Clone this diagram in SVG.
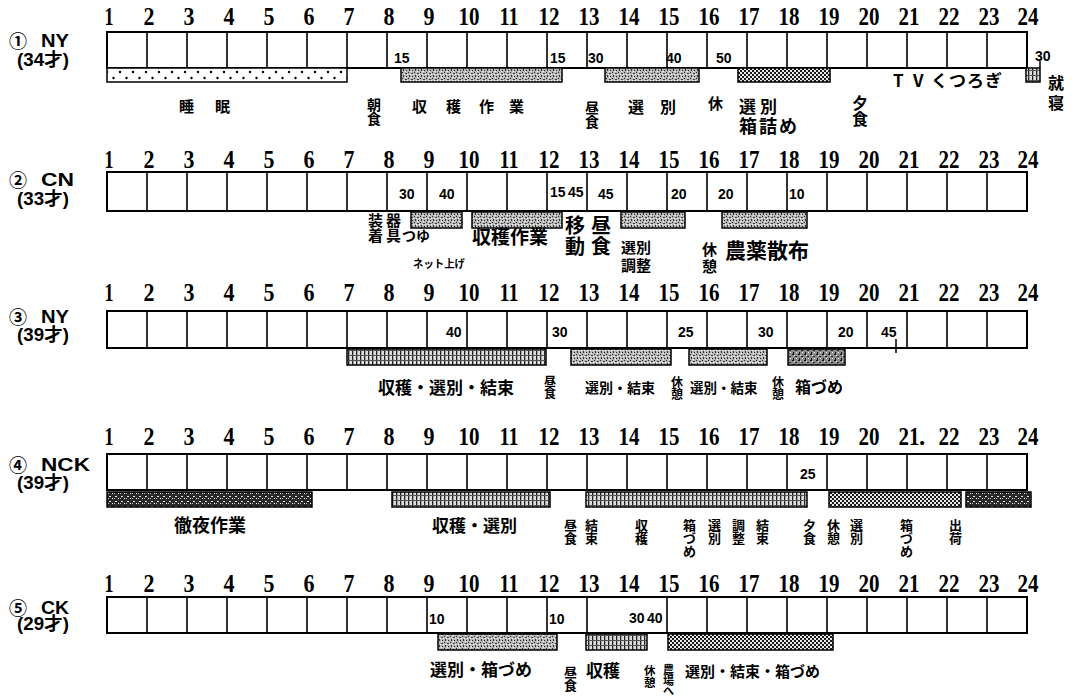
<svg xmlns="http://www.w3.org/2000/svg" xmlns:xlink="http://www.w3.org/1999/xlink" width="1076" height="696" viewBox="0 0 1076 696">
<style>
.h{font-family:"Liberation Serif",serif;font-weight:700;font-size:25px;text-anchor:middle;fill:#000}
.n{font-family:"Liberation Sans",sans-serif;font-weight:700;font-size:14px;fill:#000}
.j{font-family:"Noto Sans CJK JP",sans-serif;font-weight:700;fill:#000}
.r{font-family:"Liberation Sans","Noto Sans CJK JP",sans-serif;font-weight:700;font-size:18px;fill:#000}
.box{fill:#fff;stroke:#000;stroke-width:2}
.div{fill:none;stroke:#000;stroke-width:1.6}
.bar{stroke:#000;stroke-width:1.5}
</style>
<defs>
<pattern id="pDots" width="13" height="12" patternUnits="userSpaceOnUse" patternTransform="translate(0,68)"><rect width="13" height="12" fill="#fff"/><circle cx="3" cy="4" r="1.2" fill="#000"/><circle cx="9.5" cy="10" r="1.2" fill="#000"/></pattern>
<pattern id="pGrey" width="6" height="6" patternUnits="userSpaceOnUse"><rect width="6" height="6" fill="#b8b8b8"/><rect x="0" y="0" width="1" height="1" fill="#222"/><rect x="3" y="1" width="2" height="1" fill="#444"/><rect x="1" y="3" width="1" height="2" fill="#333"/><rect x="4" y="4" width="1" height="1" fill="#222"/><rect x="2" y="2" width="1" height="1" fill="#fff"/><rect x="5" y="2" width="1" height="1" fill="#fff"/><rect x="3" y="5" width="1" height="1" fill="#fff"/></pattern>
<pattern id="pGreyD" width="6" height="6" patternUnits="userSpaceOnUse"><rect width="6" height="6" fill="#8a8a8a"/><rect x="0" y="0" width="2" height="1" fill="#111"/><rect x="3" y="2" width="2" height="1" fill="#222"/><rect x="1" y="4" width="1" height="2" fill="#111"/><rect x="4" y="4" width="1" height="1" fill="#fff"/><rect x="2" y="1" width="1" height="1" fill="#eee"/></pattern>
<pattern id="pCheck" width="4" height="4" patternUnits="userSpaceOnUse"><rect width="4" height="4" fill="#1a1a1a"/><rect x="0" y="0" width="2" height="2" fill="#e8e8e8"/><rect x="2" y="2" width="2" height="2" fill="#e8e8e8"/></pattern>
<pattern id="pVert" width="4" height="5" patternUnits="userSpaceOnUse"><rect width="4" height="5" fill="#dcdcdc"/><rect x="0" y="0" width="1.3" height="5" fill="#222"/><rect x="0" y="0" width="4" height="1" fill="#555"/></pattern>
<pattern id="pDark" width="6" height="5" patternUnits="userSpaceOnUse"><rect width="6" height="5" fill="#2a2a2a"/><rect x="1" y="1" width="2" height="1" fill="#ddd"/><rect x="4" y="3" width="1" height="1" fill="#fff"/><rect x="0" y="3" width="1" height="1" fill="#bbb"/></pattern>
<g id="hours">
<text class="h" x="109" textLength="9" lengthAdjust="spacingAndGlyphs">1</text>
<text class="h" x="149" textLength="11" lengthAdjust="spacingAndGlyphs">2</text>
<text class="h" x="189" textLength="11" lengthAdjust="spacingAndGlyphs">3</text>
<text class="h" x="229" textLength="11" lengthAdjust="spacingAndGlyphs">4</text>
<text class="h" x="269" textLength="11" lengthAdjust="spacingAndGlyphs">5</text>
<text class="h" x="309" textLength="11" lengthAdjust="spacingAndGlyphs">6</text>
<text class="h" x="349" textLength="11" lengthAdjust="spacingAndGlyphs">7</text>
<text class="h" x="389" textLength="11" lengthAdjust="spacingAndGlyphs">8</text>
<text class="h" x="429" textLength="11" lengthAdjust="spacingAndGlyphs">9</text>
<text class="h" x="469" textLength="21" lengthAdjust="spacingAndGlyphs">10</text>
<text class="h" x="509" textLength="19" lengthAdjust="spacingAndGlyphs">11</text>
<text class="h" x="549" textLength="21" lengthAdjust="spacingAndGlyphs">12</text>
<text class="h" x="589" textLength="21" lengthAdjust="spacingAndGlyphs">13</text>
<text class="h" x="629" textLength="21" lengthAdjust="spacingAndGlyphs">14</text>
<text class="h" x="669" textLength="21" lengthAdjust="spacingAndGlyphs">15</text>
<text class="h" x="709" textLength="21" lengthAdjust="spacingAndGlyphs">16</text>
<text class="h" x="749" textLength="21" lengthAdjust="spacingAndGlyphs">17</text>
<text class="h" x="789" textLength="21" lengthAdjust="spacingAndGlyphs">18</text>
<text class="h" x="829" textLength="21" lengthAdjust="spacingAndGlyphs">19</text>
<text class="h" x="869" textLength="21" lengthAdjust="spacingAndGlyphs">20</text>
<text class="h" x="949" textLength="21" lengthAdjust="spacingAndGlyphs">22</text>
<text class="h" x="989" textLength="21" lengthAdjust="spacingAndGlyphs">23</text>
<text class="h" x="1028" textLength="21" lengthAdjust="spacingAndGlyphs">24</text>
</g>
</defs>
<rect width="1076" height="696" fill="#fff"/>

<g id="row1">
<use xlink:href="#hours" href="#hours" y="25"/>
<text class="h" x="909" y="25" textLength="21" lengthAdjust="spacingAndGlyphs">21</text>
<text class="r" x="9" y="48" font-size="21">①</text>
<text class="r" x="41" y="47" textLength="28" lengthAdjust="spacingAndGlyphs">NY</text>
<text class="r" x="17" y="66" font-size="16" textLength="52" lengthAdjust="spacingAndGlyphs">(34才)</text>
<rect class="box" x="107" y="32" width="920" height="36"/>
<path class="div" d="M147,32v36m40,-36v36m40,-36v36m40,-36v36m40,-36v36m40,-36v36m40,-36v36m40,-36v36m40,-36v36m40,-36v36m40,-36v36m40,-36v36m40,-36v36m40,-36v36m40,-36v36m40,-36v36m40,-36v36m40,-36v36m40,-36v36m40,-36v36m40,-36v36m40,-36v36"/>
<rect class="bar" x="107" y="68" width="240" height="14" fill="url(#pDots)"/>
<rect class="bar" x="401" y="68" width="161" height="14" fill="url(#pGrey)"/>
<rect class="bar" x="605" y="68" width="94" height="14" fill="url(#pGrey)"/>
<rect class="bar" x="738" y="68" width="92" height="14" fill="url(#pCheck)"/>
<rect class="bar" x="1026" y="68" width="14" height="14" fill="url(#pVert)"/>
<path d="M1040,61V68" stroke="#000" stroke-width="1.5"/>
<text class="n" x="394" y="63">15</text>
<text class="n" x="550" y="63">15</text>
<text class="n" x="588" y="63">30</text>
<text class="n" x="666" y="63">40</text>
<text class="n" x="716" y="63">50</text>
<text class="n" x="1035" y="61">30</text>
<text class="j" x="179" y="112" font-size="15">睡</text>
<text class="j" x="215" y="112" font-size="15">眠</text>
<text class="j" x="367" y="110" font-size="14">朝<tspan x="367" dy="14">食</tspan></text>
<text class="j" x="412 446 479 509" y="112" font-size="15">収穫作業</text>
<text class="j" x="585" y="113" font-size="14">昼<tspan x="585" dy="14">食</tspan></text>
<text class="j" x="628" y="113" font-size="16">選</text>
<text class="j" x="660" y="113" font-size="16">別</text>
<text class="j" x="708" y="109" font-size="15">休</text>
<text class="j" x="739 760" y="113" font-size="17">選別</text>
<text class="j" x="739 759 779" y="133" font-size="18">箱詰め</text>
<text class="j" x="852" y="109" font-size="16">夕<tspan x="852" dy="16">食</tspan></text>
<text class="j" x="893 913 931 949 967 985" y="87" font-size="17">TVくつろぎ</text>
<text class="j" x="1048" y="89" font-size="16">就<tspan x="1048" dy="20">寝</tspan></text>
</g>

<g id="row2">
<use xlink:href="#hours" href="#hours" y="168"/>
<text class="h" x="909" y="168" textLength="21" lengthAdjust="spacingAndGlyphs">21</text>
<text class="r" x="9" y="187" font-size="21">②</text>
<text class="r" x="41" y="186" textLength="33" lengthAdjust="spacingAndGlyphs">CN</text>
<text class="r" x="17" y="205" font-size="16" textLength="52" lengthAdjust="spacingAndGlyphs">(33才)</text>
<rect class="box" x="107" y="172" width="920" height="39"/>
<path class="div" d="M147,172v39m40,-39v39m40,-39v39m40,-39v39m40,-39v39m40,-39v39m40,-39v39m40,-39v39m40,-39v39m40,-39v39m40,-39v39m40,-39v39m40,-39v39m40,-39v39m40,-39v39m40,-39v39m40,-39v39m40,-39v39m40,-39v39m40,-39v39m40,-39v39m40,-39v39"/>
<rect class="bar" x="411" y="212" width="51" height="16" fill="url(#pGrey)"/>
<rect class="bar" x="472" y="212" width="90" height="16" fill="url(#pGrey)"/>
<rect class="bar" x="621" y="212" width="64" height="16" fill="url(#pGrey)"/>
<rect class="bar" x="722" y="212" width="85" height="16" fill="url(#pGrey)"/>
<text class="n" x="399" y="199">30</text>
<text class="n" x="439" y="199">40</text>
<text class="n" x="550" y="197" font-size="10">15</text>
<text class="n" x="568" y="197" font-size="10">45</text>
<text class="n" x="598" y="199">45</text>
<text class="n" x="671" y="199">20</text>
<text class="n" x="718" y="199">20</text>
<text class="n" x="789" y="199">10</text>
<text class="j" x="368" y="226" font-size="15">装<tspan x="368" dy="15">着</tspan></text>
<text class="j" x="386" y="226" font-size="15">器<tspan x="386" dy="15">具</tspan></text>
<text class="j" x="402" y="241" font-size="14">つゆ</text>
<text class="j" x="413" y="268" font-size="11" textLength="52" lengthAdjust="spacingAndGlyphs">ネット上げ</text>
<text class="j" x="472" y="244" font-size="19">収穫作業</text>
<text class="j" x="565" y="233" font-size="20">移<tspan x="565" dy="21">動</tspan></text>
<text class="j" x="591" y="233" font-size="20">昼<tspan x="591" dy="21">食</tspan></text>
<text class="j" x="621" y="253" font-size="15">選別<tspan x="621" dy="18">調整</tspan></text>
<text class="j" x="702" y="255" font-size="15">休<tspan x="702" dy="17">憩</tspan></text>
<text class="j" x="725" y="258" font-size="21">農薬散布</text>
</g>

<g id="row3">
<use xlink:href="#hours" href="#hours" y="301"/>
<text class="h" x="909" y="301" textLength="21" lengthAdjust="spacingAndGlyphs">21</text>
<text class="r" x="9" y="324" font-size="21">③</text>
<text class="r" x="41" y="323" textLength="28" lengthAdjust="spacingAndGlyphs">NY</text>
<text class="r" x="17" y="341" font-size="16" textLength="52" lengthAdjust="spacingAndGlyphs">(39才)</text>
<rect class="box" x="107" y="311" width="920" height="37"/>
<path class="div" d="M147,311v37m40,-37v37m40,-37v37m40,-37v37m40,-37v37m40,-37v37m40,-37v37m40,-37v37m40,-37v37m40,-37v37m40,-37v37m40,-37v37m40,-37v37m40,-37v37m40,-37v37m40,-37v37m40,-37v37m40,-37v37m40,-37v37m40,-37v37m40,-37v37m40,-37v37"/>
<rect class="bar" x="347" y="349" width="199" height="16" fill="url(#pVert)"/>
<rect class="bar" x="571" y="349" width="100" height="16" fill="url(#pGrey)"/>
<rect class="bar" x="689" y="349" width="78" height="16" fill="url(#pGrey)"/>
<rect class="bar" x="788" y="349" width="57" height="16" fill="url(#pGreyD)"/>
<text class="n" x="446" y="337">40</text>
<text class="n" x="552" y="337">30</text>
<text class="n" x="678" y="337">25</text>
<text class="n" x="758" y="337">30</text>
<text class="n" x="838" y="337">20</text>
<text class="n" x="881" y="337">45</text>
<path d="M896,339V353" stroke="#000" stroke-width="1.5"/>
<text class="j" x="378" y="394" font-size="17">収穫・選別・結束</text>
<text class="j" x="544" y="386" font-size="12">昼<tspan x="544" dy="12">食</tspan></text>
<text class="j" x="585" y="393" font-size="14">選別・結束</text>
<text class="j" x="671" y="387" font-size="12">休<tspan x="671" dy="12">憩</tspan></text>
<text class="j" x="690" y="393" font-size="13.5">選別・結束</text>
<text class="j" x="772" y="387" font-size="12">休<tspan x="772" dy="12">憩</tspan></text>
<text class="j" x="795" y="393" font-size="16">箱づめ</text>
</g>

<g id="row4">
<use xlink:href="#hours" href="#hours" y="445"/>
<text class="h" x="909" y="445" textLength="21" lengthAdjust="spacingAndGlyphs">21</text>
<text class="h" x="922" y="445">.</text>
<text class="r" x="9" y="472" font-size="21">④</text>
<text class="r" x="41" y="471" textLength="49" lengthAdjust="spacingAndGlyphs">NCK</text>
<text class="r" x="17" y="489" font-size="16" textLength="52" lengthAdjust="spacingAndGlyphs">(39才)</text>
<rect class="box" x="107" y="454" width="920" height="36"/>
<path class="div" d="M147,454v36m40,-36v36m40,-36v36m40,-36v36m40,-36v36m40,-36v36m40,-36v36m40,-36v36m40,-36v36m40,-36v36m40,-36v36m40,-36v36m40,-36v36m40,-36v36m40,-36v36m40,-36v36m40,-36v36m40,-36v36m40,-36v36m40,-36v36m40,-36v36m40,-36v36"/>
<rect class="bar" x="107" y="492" width="205" height="15" fill="url(#pDark)"/>
<rect class="bar" x="392" y="492" width="158" height="15" fill="url(#pVert)"/>
<rect class="bar" x="586" y="492" width="221" height="15" fill="url(#pVert)"/>
<rect class="bar" x="829" y="492" width="132" height="15" fill="url(#pCheck)"/>
<rect class="bar" x="966" y="492" width="65" height="15" fill="url(#pDark)"/>
<text class="n" x="800" y="479">25</text>
<text class="j" x="174" y="532" font-size="18">徹夜作業</text>
<text class="j" x="432" y="532" font-size="17">収穫・選別</text>
<g class="j" font-size="13">
<text x="564" y="530">昼<tspan x="564" dy="13">食</tspan></text>
<text x="585" y="530">結<tspan x="585" dy="13">束</tspan></text>
<text x="635" y="530">収<tspan x="635" dy="13">穫</tspan></text>
<text x="683" y="530">箱<tspan x="683" dy="13">づ</tspan><tspan x="683" dy="13">め</tspan></text>
<text x="708" y="530">選<tspan x="708" dy="13">別</tspan></text>
<text x="732" y="530">調<tspan x="732" dy="13">整</tspan></text>
<text x="756" y="530">結<tspan x="756" dy="13">束</tspan></text>
<text x="803" y="530">夕<tspan x="803" dy="13">食</tspan></text>
<text x="827" y="530">休<tspan x="827" dy="13">憩</tspan></text>
<text x="850" y="530">選<tspan x="850" dy="13">別</tspan></text>
<text x="900" y="530">箱<tspan x="900" dy="13">づ</tspan><tspan x="900" dy="13">め</tspan></text>
<text x="949" y="530">出<tspan x="949" dy="13">荷</tspan></text>
</g>
</g>

<g id="row5">
<use xlink:href="#hours" href="#hours" y="592"/>
<text class="h" x="909" y="592" textLength="21" lengthAdjust="spacingAndGlyphs">21</text>
<text class="r" x="9" y="615" font-size="21">⑤</text>
<text class="r" x="41" y="614" textLength="28" lengthAdjust="spacingAndGlyphs">CK</text>
<text class="r" x="17" y="630" font-size="16" textLength="52" lengthAdjust="spacingAndGlyphs">(29才)</text>
<rect class="box" x="107" y="597" width="920" height="36"/>
<path class="div" d="M147,597v36m40,-36v36m40,-36v36m40,-36v36m40,-36v36m40,-36v36m40,-36v36m40,-36v36m40,-36v36m40,-36v36m40,-36v36m40,-36v36m80,-36v36m40,-36v36m40,-36v36m40,-36v36m40,-36v36m40,-36v36m40,-36v36m40,-36v36m40,-36v36"/>
<rect class="bar" x="438" y="634" width="119" height="16" fill="url(#pGrey)"/>
<rect class="bar" x="586" y="634" width="61" height="16" fill="url(#pVert)"/>
<rect class="bar" x="668" y="634" width="165" height="16" fill="url(#pCheck)"/>
<text class="n" x="429" y="624">10</text>
<text class="n" x="549" y="624">10</text>
<text class="n" x="629" y="623" font-size="11">30</text>
<text class="n" x="647" y="623" font-size="11">40</text>
<text class="j" x="430" y="676" font-size="17">選別・箱づめ</text>
<text class="j" x="564" y="677" font-size="13">昼<tspan x="564" dy="13">食</tspan></text>
<text class="j" x="586" y="677" font-size="17">収穫</text>
<text class="j" x="644" y="675" font-size="11.5">休<tspan x="644" dy="11.5">憩</tspan></text>
<text class="j" x="663" y="674" font-size="11">農<tspan x="663" dy="10.5">場</tspan><tspan x="663" dy="10">へ</tspan></text>
<text class="j" x="685" y="677" font-size="15">選別・結束・箱づめ</text>
</g>
</svg>
